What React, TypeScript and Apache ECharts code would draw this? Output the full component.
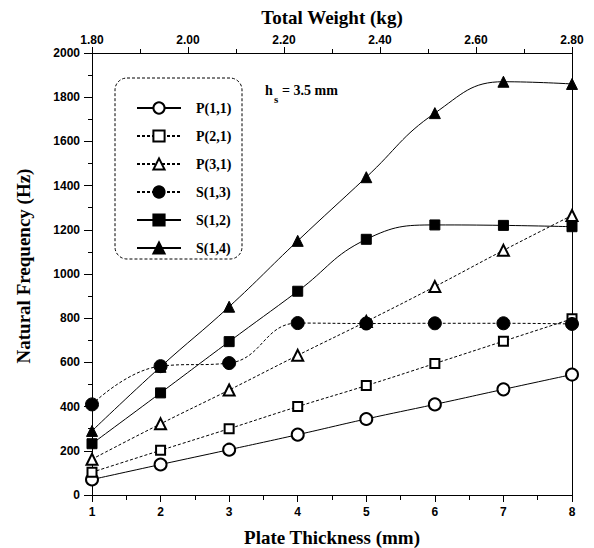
import React, { useEffect, useRef } from "react";
import * as echarts from "echarts";

const thickness = [1, 2, 3, 4, 5, 6, 7, 8];
const p11 = [70, 138, 205, 273, 344, 410, 478, 545];
const p21 = [103, 202, 300, 400, 495, 595, 696, 797];
const p31 = [162, 322, 475, 632, 785, 943, 1107, 1265];
const s13 = [410, 583, 597, 778, 776, 777, 777, 774];
const s12 = [232, 462, 694, 922, 1157, 1222, 1220, 1214];
const s14 = [290, 580, 852, 1150, 1438, 1728, 1870, 1860];

const seriesNames = ["P(1,1)", "P(2,1)", "P(3,1)", "S(1,3)", "S(1,2)", "S(1,4)"];

const SERIF = "'Liberation Serif', 'Times New Roman', serif";
const SANS = "'Liberation Sans', Arial, sans-serif";

export default function App() {
  const ref = useRef<HTMLDivElement>(null);
  useEffect(() => {
    if (!ref.current) return;
    const chart = echarts.init(ref.current, null, { renderer: "svg" });
    const pair = (arr: number[]) => thickness.map((x, i) => [x, arr[i]]);
    const mk = (
      name: string,
      arr: number[],
      symbol: string,
      size: number,
      dash: any
    ) => ({
      name,
      type: "line",
      data: pair(arr),
      smooth: 0.45,
      symbol,
      symbolSize: size,
      showSymbol: true,
      lineStyle: { color: "#000", width: 1, type: dash },
      itemStyle: { color: "#000", borderColor: "#000", borderWidth: 1 },
      z: 3,
    });
    const option: any = {
      animation: false,
      backgroundColor: "#fff",
      grid: { left: 92, right: 22, top: 53, bottom: 53 },
      legend: {
        orient: "vertical",
        left: 131,
        top: 96,
        itemWidth: 44,
        itemHeight: 14,
        itemGap: 14,
        selectedMode: false,
        data: seriesNames,
        textStyle: {
          fontFamily: SERIF,
          fontWeight: "bold",
          fontSize: 14,
          color: "#000",
          padding: [0, 0, 0, 10],
        },
      },
      xAxis: [
        {
          type: "value",
          position: "bottom",
          min: 1,
          max: 8,
          interval: 1,
          axisLine: { show: true, lineStyle: { color: "#000", width: 1 } },
          axisTick: { show: true, inside: false, length: 7, lineStyle: { color: "#000" } },
          minorTick: { show: true, splitNumber: 2, length: 5, lineStyle: { color: "#000" } },
          splitLine: { show: false },
          axisLabel: {
            margin: 11,
            color: "#000",
            fontFamily: SANS,
            fontWeight: "bold",
            fontSize: 12,
            formatter: (v: number) => String(v),
          },
        },
        {
          type: "value",
          position: "top",
          min: 1.8,
          max: 2.8,
          interval: 0.2,
          axisLine: { show: true, onZero: false, lineStyle: { color: "#000", width: 1 } },
          axisTick: { show: true, inside: false, length: 6, lineStyle: { color: "#000" } },
          minorTick: { show: true, splitNumber: 2, length: 4, lineStyle: { color: "#000" } },
          splitLine: { show: false },
          axisLabel: {
            margin: 7,
            color: "#000",
            fontFamily: SANS,
            fontWeight: "bold",
            fontSize: 12,
            formatter: (v: number) => v.toFixed(2),
          },
        },
      ],
      yAxis: [
        {
          type: "value",
          position: "left",
          min: 0,
          max: 2000,
          interval: 200,
          axisLine: { show: true, onZero: false, lineStyle: { color: "#000", width: 1 } },
          axisTick: { show: true, inside: false, length: 8, lineStyle: { color: "#000" } },
          minorTick: { show: true, splitNumber: 2, length: 4, lineStyle: { color: "#000" } },
          splitLine: { show: false },
          axisLabel: {
            margin: 12,
            color: "#000",
            fontFamily: SANS,
            fontWeight: "bold",
            fontSize: 12,
            formatter: (v: number) => String(Math.round(v)),
          },
        },
        {
          type: "value",
          position: "right",
          min: 0,
          max: 2000,
          interval: 200,
          axisLine: { show: true, onZero: false, lineStyle: { color: "#000", width: 1 } },
          axisTick: { show: false },
          splitLine: { show: false },
          axisLabel: { show: false },
        },
      ],
      graphic: [
        {
          type: "rect",
          shape: { x: 115, y: 78, width: 127, height: 181, r: 12 },
          style: { fill: "none", stroke: "#000", lineWidth: 1, lineDash: [3, 2] },
          z: 1,
        },
        {
          type: "text",
          x: 332,
          y: 17,
          style: {
            text: "Total Weight (kg)",
            font: `bold 19px ${SERIF}`,
            fill: "#000",
            textAlign: "center",
            textVerticalAlign: "middle",
          },
        },
        {
          type: "text",
          x: 332,
          y: 537,
          style: {
            text: "Plate Thickness (mm)",
            font: `bold 19px ${SERIF}`,
            fill: "#000",
            textAlign: "center",
            textVerticalAlign: "middle",
          },
        },
        {
          type: "text",
          x: 23,
          y: 266,
          rotation: Math.PI / 2,
          style: {
            text: "Natural Frequency (Hz)",
            font: `bold 19px ${SERIF}`,
            fill: "#000",
            textAlign: "center",
            textVerticalAlign: "middle",
          },
        },
        {
          type: "text",
          x: 265,
          y: 90,
          style: {
            text: "h",
            font: `bold 14px ${SERIF}`,
            fill: "#000",
            textAlign: "left",
            textVerticalAlign: "middle",
          },
        },
        {
          type: "text",
          x: 274,
          y: 99,
          style: {
            text: "s",
            font: `bold 11px ${SERIF}`,
            fill: "#000",
            textAlign: "left",
            textVerticalAlign: "middle",
          },
        },
        {
          type: "text",
          x: 282,
          y: 90,
          style: {
            text: "= 3.5 mm",
            font: `bold 14px ${SERIF}`,
            fill: "#000",
            textAlign: "left",
            textVerticalAlign: "middle",
          },
        },
      ],
      series: [
        mk("P(1,1)", p11, "emptyCircle", 12, "solid"),
        mk("P(2,1)", p21, "emptyRect", 9, [3, 2]),
        mk("P(3,1)", p31, "emptyTriangle", 11, [3, 2]),
        mk("S(1,3)", s13, "circle", 13, [3, 2]),
        mk("S(1,2)", s12, "rect", 10, "solid"),
        mk("S(1,4)", s14, "triangle", 11, "solid"),
      ],
    };
    chart.setOption(option);
    return () => chart.dispose();
  }, []);
  return (
    <div
      ref={ref}
      style={{ position: "fixed", left: 0, top: 0, width: 594, height: 548, background: "#fff" }}
    />
  );
}
